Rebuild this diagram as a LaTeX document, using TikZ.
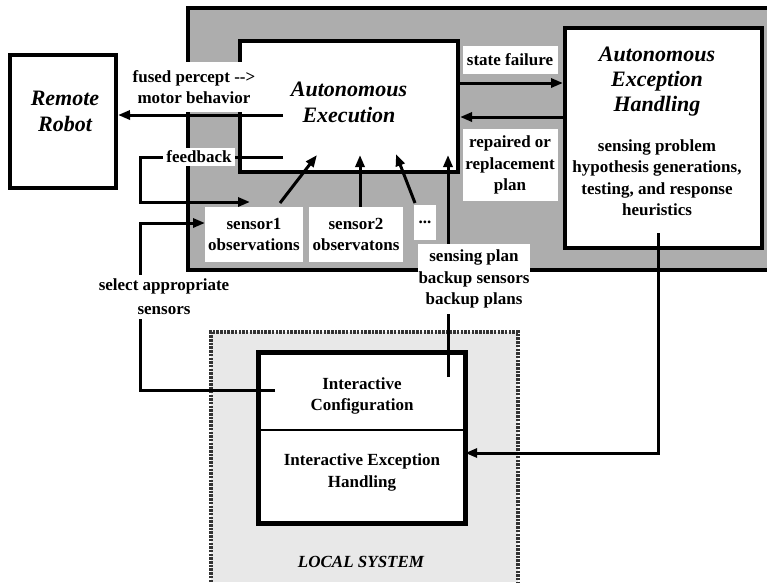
\documentclass[tikz,border=0pt]{standalone}
\usepackage{fontspec}
\setmainfont{Liberation Serif}
\usetikzlibrary{arrows.meta}
\begin{document}
\begin{tikzpicture}[x=1pt,y=-1pt,
  lbl/.style={font=\fontsize{17}{21.5}\selectfont\bfseries, align=center, inner sep=0pt},
  wlbl/.style={lbl, fill=white},
  ttl/.style={font=\fontsize{22}{26}\selectfont\bfseries\itshape, align=center, inner sep=0pt},
  box/.style={draw, line width=4pt, fill=white, inner sep=0pt},
  conn/.style={line width=3pt},
  arr/.style={conn, -{Triangle[length=12pt,width=9pt]}},
]
\useasboundingbox (0,0) rectangle (767,582);

% remote (shaded) region
\fill[black!32] (188,8) rectangle (767,270);
\draw[line width=4pt] (767,8) -- (188,8) -- (188,270) -- (767,270);

% local system region
\fill[black!9] (211,332) rectangle (518,582);
\draw[line width=3.5pt, black!80, dash pattern=on 2.5pt off 1.2pt] (211,582) -- (211,332) -- (518,332) -- (518,582);
\node[font=\fontsize{17}{20}\selectfont\bfseries\itshape, inner sep=0pt] (localT) at (361,562) {LOCAL SYSTEM};

% boxes
\node[box, minimum width=218, minimum height=131] (ae) at (349,106.5) {};
\node[box, minimum width=197, minimum height=220] (aeh) at (663.5,138) {};
\node[box, minimum width=106, minimum height=133] (robot) at (63,121.5) {};
\node[draw=none, minimum width=206, minimum height=77, inner sep=0pt] (ic) at (362,391.5) {};
\node[draw=none, minimum width=206, minimum height=93, inner sep=0pt] (ieh) at (362,476.5) {};
\fill[white] (ic.north west) rectangle (ieh.south east);
\draw[line width=2pt] (ic.south west) -- (ic.south east);
\draw[line width=5pt] (ic.north west) rectangle (ieh.south east);

% box texts
\node[ttl] (aeT) at (349,102) {Autonomous\\Execution};
\node[ttl, font=\fontsize{22}{25}\selectfont\bfseries\itshape] (aehT) at (657,82) {Autonomous\\Exception\\Handling};
\node[lbl] (aehB) at (657,177.5) {sensing problem\\hypothesis generations,\\testing, and response\\heuristics};
\node[ttl] (robotT) at (65,111.5) {Remote\\Robot};
\node[lbl] (icT) at (362,396) {Interactive\\Configuration};
\node[lbl] (iehT) at (362,472.5) {Interactive Exception\\Handling};

% connector end points
\coordinate (m1) at (283,115);
\coordinate (f1) at (283,157);
\coordinate (f2) at (140,157);
\coordinate (f3) at (140,202);
\coordinate (f4) at (250,202);
\coordinate (c1) at (275,390);
\coordinate (c2) at (140,390);
\coordinate (c3) at (140,223);
\coordinate (c4) at (205,223);
\coordinate (s1a) at (280,203);
\coordinate (s1b) at (317,155);
\coordinate (s2a) at (360,207);
\coordinate (s2b) at (360,155);
\coordinate (s3a) at (415,203);
\coordinate (s3b) at (396,154);
\coordinate (p1) at (448,377);
\coordinate (p2) at (448,155);
\coordinate (sf) at (0,83);
\coordinate (rp) at (0,117);
\coordinate (h1) at (658,233);
\coordinate (h2) at (658,453);

% connectors
\draw[arr] (m1) -- (m1 -| robot.east);
\draw[arr] (f1) -- (f2) -- (f3) -- (f4);
\draw[arr] (c1) -- (c2) -- (c3) -- (c4);
\draw[arr] (s1a) -- (s1b);
\draw[arr] (s2a) -- (s2b);
\draw[arr] (s3a) -- (s3b);
\draw[arr] (p1) -- (p2);
\draw[arr] (ae.east |- sf) -- (aeh.west |- sf);
\draw[arr] (aeh.west |- rp) -- (ae.east |- rp);
\draw[arr] (h1) -- (h2) -- (h2 -| ieh.east);

% labels with white backgrounds
\node[wlbl, minimum width=128, minimum height=50] (fused) at (194,87) {fused percept -{}-{}>\\motor behavior};
\node[wlbl, inner xsep=3pt, inner ysep=3pt] (fb) at (199,157) {feedback};
\node[wlbl, font=\fontsize{17}{24}\selectfont\bfseries, inner sep=4pt] (sel) at (164,297) {select appropriate\\sensors};
\node[wlbl, minimum width=112, minimum height=70] (splan) at (474,279) {sensing plan\\backup sensors\\backup plans};
\node[wlbl, minimum width=95, minimum height=28] (sfail) at (510,60) {state failure};
\node[wlbl, minimum width=95, minimum height=72] (repl) at (510,165) {repaired or\\replacement\\plan};
\node[wlbl, minimum width=98, minimum height=55] (s1) at (254,234.5) {sensor1\\observations};
\node[wlbl, minimum width=94, minimum height=55] (s2) at (356,234.5) {sensor2\\observatons};
\node[wlbl, minimum width=22, minimum height=35] (s3) at (425,222) {...};
\end{tikzpicture}
\end{document}
